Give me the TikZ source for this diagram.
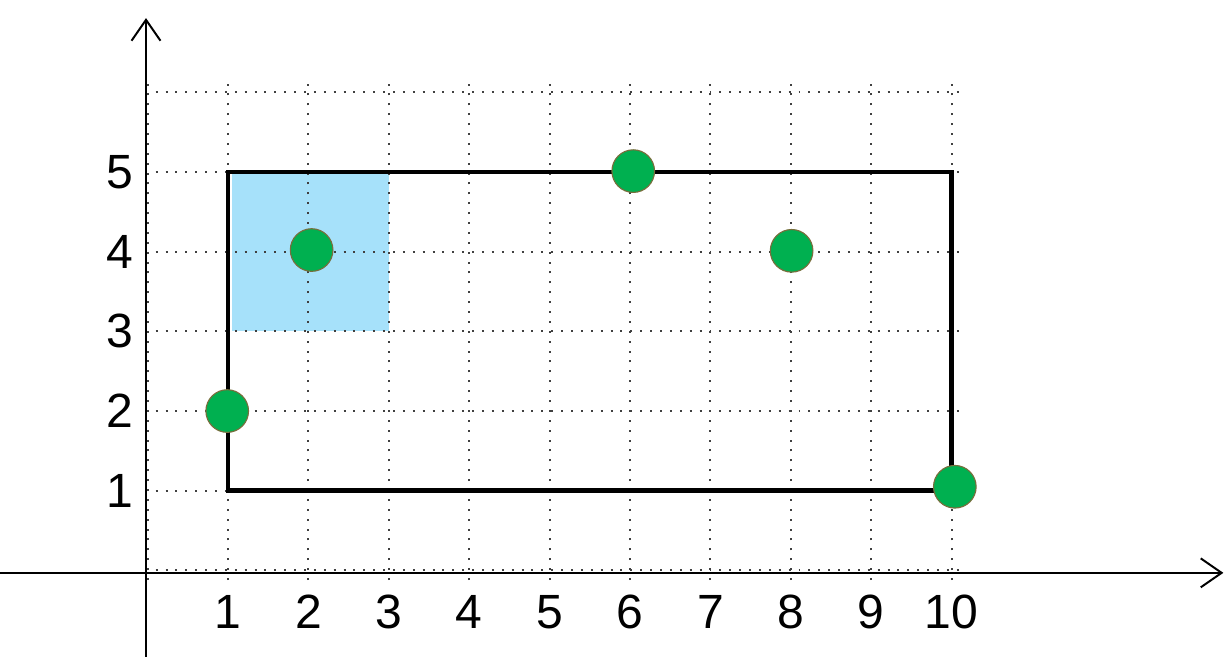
\documentclass[tikz,border=0pt]{standalone}
\usepackage{fontspec}
\setmainfont{Liberation Sans}
\usepackage{xcolor}
\usetikzlibrary{arrows.meta, positioning}

\definecolor{dotgreen}{RGB}{0,176,80}
\definecolor{dotrim}{RGB}{120,110,60}
\definecolor{cellblue}{RGB}{166,225,250}

\begin{document}
\begin{tikzpicture}[
    x=1cm, y=0.9914cm,
    gridline/.style={line width=0.7pt, dash pattern=on 0.7pt off 2.8pt, black!75},
    axisline/.style={line width=0.7pt, -{Straight Barb[length=2.6mm, width=3.6mm]}},
    pointdot/.style={circle, fill=dotgreen, draw=dotrim, line width=0.4pt, minimum size=0.53cm, inner sep=0pt},
    ticklabel/.style={font=\fontsize{17}{20}\selectfont, inner sep=0pt}
]
    \useasboundingbox (-1.836,-1.157) rectangle (13.475,7.157);

    % Shaded cell
    \fill[cellblue] (1.05,3) rectangle (3,5);

    % Dotted grid
    \foreach \x in {0,...,10} {
        \draw[gridline] (\x,-0.12) -- (\x,6.1);
    }
    \foreach \y in {0,...,6} {
        \draw[gridline] (0.1,\y) -- (10.15,\y);
    }

    % Axes
    \coordinate (xstart) at (-1.836,-0.03);
    \coordinate (xend) at (13.38,-0.03);
    \coordinate (ystart) at (-0.02,-1.08);
    \coordinate (yend) at (-0.02,6.93);
    \draw[axisline] (xstart) -- (xend);
    \draw[axisline] (ystart) -- (yend);

    % Tick labels
    \foreach \x in {1,...,10} {
        \node[ticklabel] (lx\x) at (\x,-0.52) {\x};
    }
    \foreach \y in {1,...,5} {
        \node[ticklabel] (ly\y) at (-0.34,\y) {\y};
    }

    % Bounding rectangle
    \draw[line width=1.6pt] (1,1) rectangle (10,5);

    % Points
    \node[pointdot] (p1) at (0.99,2) {};
    \node[pointdot] (p2) at (2.04,4.02) {};
    \node[pointdot] (p3) at (6.04,5.01) {};
    \node[pointdot] (p4) at (8.01,4.01) {};
    \node[pointdot] (p5) at (10.04,1.05) {};
\end{tikzpicture}
\end{document}
